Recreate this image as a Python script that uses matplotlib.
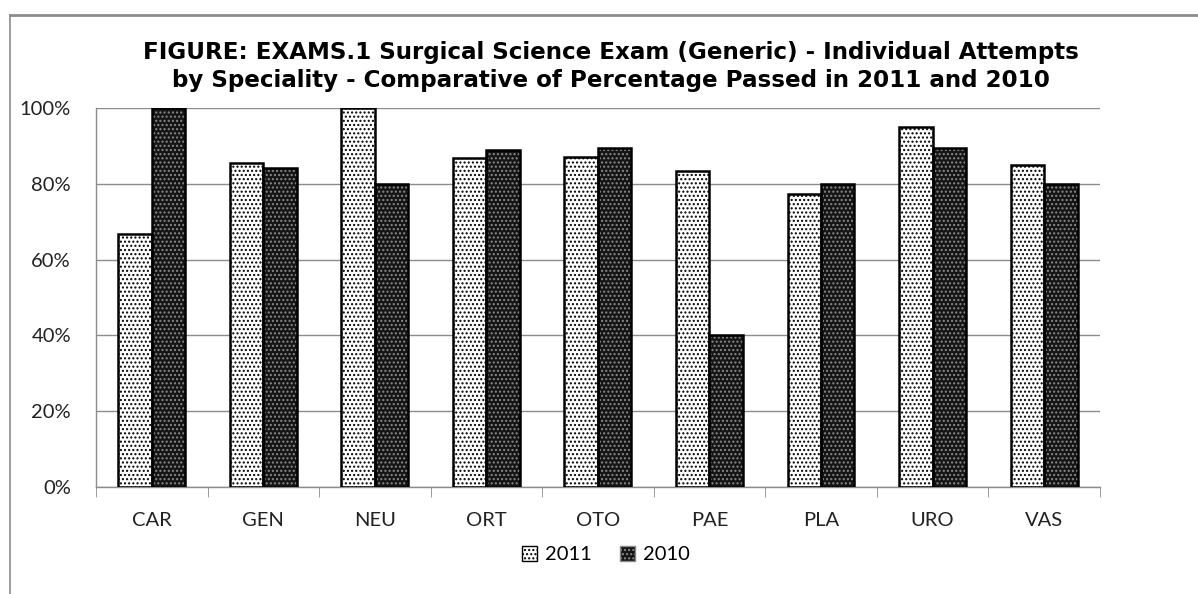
import matplotlib.pyplot as plt
import numpy as np
from matplotlib.patches import Patch
from matplotlib.lines import Line2D

# data
categories = ['CAR', 'GEN', 'NEU', 'ORT', 'OTO', 'PAE', 'PLA', 'URO', 'VAS']
passed_2011 = [66.7, 85.6, 100.0, 86.8, 87.1, 83.3, 77.4, 94.9, 85.0]
passed_2010 = [100.0, 84.2, 80.0, 88.9, 89.5, 40.0, 80.0, 89.5, 80.0]
series_names = ['2011', '2010']
title_lines = ['FIGURE: EXAMS.1 Surgical Science Exam (Generic) - Individual Attempts',
               'by Speciality - Comparative of Percentage Passed in 2011 and 2010']

fig = plt.figure(figsize=(11.98, 5.94), dpi=100)
ax = fig.add_axes([0.0801, 0.180, 0.838, 0.638])

x = np.arange(len(categories))
w = 0.3

# 2011: white with black dots
ax.bar(x - w / 2, passed_2011, w, facecolor='white', edgecolor='black',
       hatch='....', linewidth=0, zorder=3)
ax.bar(x - w / 2, passed_2011, w, fill=False, edgecolor='black',
       linewidth=1.8, zorder=4)
# 2010: dark with light dots
ax.bar(x + w / 2, passed_2010, w, facecolor='#151515', edgecolor='#8a8a8a',
       hatch='....', linewidth=0, zorder=3)
ax.bar(x + w / 2, passed_2010, w, fill=False, edgecolor='black',
       linewidth=1.8, zorder=4)

ax.set_xlim(-0.5, len(categories) - 0.5)
ax.set_ylim(0, 100)
ax.set_yticks(np.arange(0, 101, 20))
ax.set_yticklabels([f'{v}%' for v in range(0, 101, 20)])
ax.yaxis.grid(True, color='#8c8c8c', linewidth=1.0, zorder=0)
ax.set_axisbelow(True)

ax.set_xticks(x)
ax.set_xticklabels(categories)
ax.set_xticks(np.arange(-0.5, len(categories)), minor=True)
ax.tick_params(axis='x', which='major', length=0, pad=18)
ax.tick_params(axis='x', which='minor', length=7, color='#8c8c8c')
ax.tick_params(axis='y', length=0, pad=18)
for lab in ax.get_xticklabels() + ax.get_yticklabels():
    lab.set_fontfamily('Lato')
    lab.set_fontsize(14.5)
    lab.set_color('#222222')

for side in ['top', 'right']:
    ax.spines[side].set_visible(False)
for side in ['left', 'bottom']:
    ax.spines[side].set_color('#8c8c8c')
    ax.spines[side].set_linewidth(1.0)

# title, two lines with baselines placed separately
for line, base_px in zip(title_lines, [59, 87]):
    fig.text(0.510, 1 - base_px / 594, line, ha='center', va='baseline',
             fontsize=16.6, fontweight='bold', family='DejaVu Sans')

handles = [Patch(facecolor='white', edgecolor='black', hatch='....'),
           Patch(facecolor='#151515', edgecolor='#8a8a8a', hatch='....')]
leg = fig.legend(handles, series_names, loc='center', bbox_to_anchor=(0.506, 0.066),
                 ncol=2, frameon=False, handlelength=0.75, handleheight=0.75,
                 handletextpad=0.4, columnspacing=1.4,
                 prop={'family': 'Lato', 'size': 14.5})

# outer chart frame
fig.add_artist(Line2D([10 / 1198, 1], [1 - 15 / 594, 1 - 15 / 594],
                      transform=fig.transFigure, color='#8c8c8c', linewidth=2))
fig.add_artist(Line2D([10 / 1198, 10 / 1198], [0, 1 - 15 / 594],
                      transform=fig.transFigure, color='#8c8c8c', linewidth=1.2))

fig.savefig('out.png', dpi=100)
